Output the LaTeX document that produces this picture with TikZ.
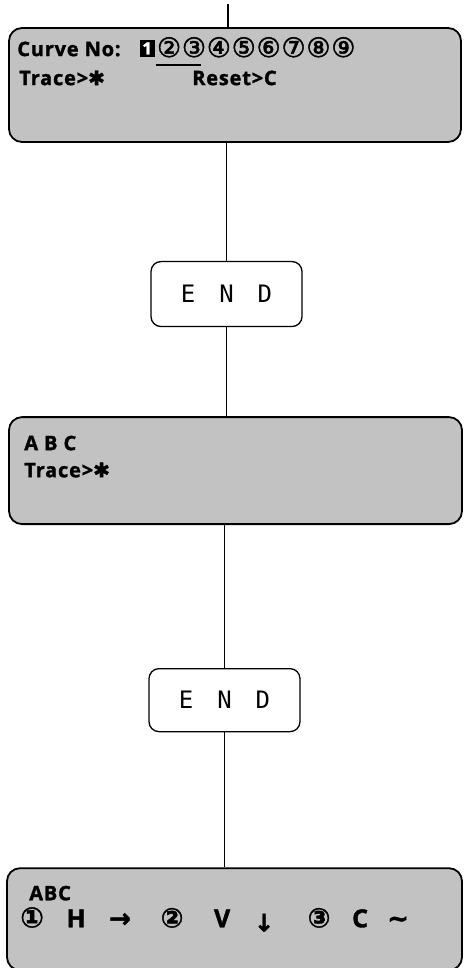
\documentclass[tikz,border=0pt]{standalone}
\usepackage{fontspec}
\usetikzlibrary{positioning, calc}
\newfontfamily\lcdfont{Open Sans}[LetterSpace=4, BoldFeatures={FakeBold=1.4}]
\newfontfamily\symfont{DejaVu Sans}[FakeBold=1.6]
\newfontfamily\endfont{DejaVu Sans Mono}
\definecolor{lcdgrey}{gray}{0.76}
\tikzset{
  lcd/.style     = {rectangle, rounded corners=13pt, draw=black, line width=1.8pt,
                    fill=lcdgrey, inner sep=0pt},
  endbox/.style  = {rectangle, rounded corners=10pt, draw=black, line width=1.3pt,
                    fill=white, minimum width=151pt, minimum height=65pt,
                    font=\endfont\fontsize{24}{24}\selectfont},
  lcdtxt/.style  = {anchor=base west, inner sep=0pt,
                    font=\lcdfont\bfseries\fontsize{20}{20}\selectfont},
  lcdsym/.style  = {anchor=base, inner sep=0pt,
                    font=\lcdfont\bfseries\fontsize{25}{25}\selectfont},
  circnum/.style = {anchor=base, inner sep=0pt, font=\symfont\fontsize{27}{27}\selectfont},
  cursor/.style  = {line width=1.4pt},
  link/.style    = {line width=1.2pt},
}

\begin{document}
\begin{tikzpicture}[x=1pt, y=-1pt]
  \useasboundingbox (0,0) rectangle (465,968);
  % screens and END boxes
  \node[lcd, minimum width=452pt, minimum height=114pt] (b1) at (235,85) {};
  \node[endbox, below=118pt of b1, xshift=-8.5pt] (e1) {E\hskip24pt N\hskip24pt D};
  \node[lcd, minimum width=453pt, minimum height=107pt, below=89pt of e1, xshift=9pt] (b2) {};
  \node[endbox, minimum height=63pt, below=143pt of b2, xshift=-11pt] (e2) {E\hskip24pt N\hskip24pt D};
  \node[lcd, minimum width=455pt, minimum height=102pt, below=135pt of e2, xshift=10pt] (b3) {};

  % connectors
  \coordinate (in) at (228,4);
  \draw[link] (in) -- (in |- b1.north);
  \draw[link] (e1.north |- b1.south) -- (e1.north);
  \draw[link] (e1.south) -- (e1.south |- b2.north);
  \draw[link] (e2.north |- b2.south) -- (e2.north);
  \draw[link] (e2.south) -- (e2.south |- b3.north);

  % first screen
  \node[lcdtxt] (curve) at ($(b1.north west)+(9,29)$) {Curve No:};
  \node[fill=black, minimum width=15pt, minimum height=17pt, inner sep=0pt, anchor=south,
        text=white, font=\lcdfont\bfseries\fontsize{17}{17}\selectfont] (c1) at ($(b1.north west)+(139,30)$) {1};
  \foreach \d [count=\i from 2] in {②,③,④,⑤,⑥,⑦,⑧,⑨}
    \node[circnum] (c\i) at ($(b1.north west)+({161+(\i-2)*24.9},30)$) {\d};
  \draw[cursor] ([xshift=-1pt, yshift=-8pt]c2.base west) -- ++(45,0);
  \node[lcdtxt] (trace1) at ($(b1.north west)+(11,58)$) {Trace>{\symfont ✱}};
  \node[lcdtxt] (reset) at ($(b1.north west)+(184,58)$) {Reset>C};

  % second screen
  \node[lcdtxt] (abc2) at ($(b2.north west)+(16,34)$) {A B C};
  \node[lcdtxt] (trace2) at ($(b2.north west)+(16,61)$) {Trace>{\symfont ✱}};

  % third screen
  \node[lcdtxt] (abc3) at ($(b3.north west)+(23,33)$) {ABC};
  \foreach \x/\t [count=\i] in {26/{\symfont\fontsize{28}{28}\selectfont ①}, 70/H,
      114/{\symfont\fontsize{26}{26}\selectfont →}, 166/{\symfont\fontsize{27}{27}\selectfont ②},
      216/V, 258/{\symfont\fontsize{24}{24}\selectfont\raisebox{-4pt}{↓}},
      313/{\symfont\fontsize{27}{27}\selectfont ③}, 354/C,
      392/{\symfont\fontsize{26}{26}\selectfont\textasciitilde}}
    \node[lcdsym] (m\i) at ($(b3.north west)+(\x,60)$) {\t};
\end{tikzpicture}
\end{document}
